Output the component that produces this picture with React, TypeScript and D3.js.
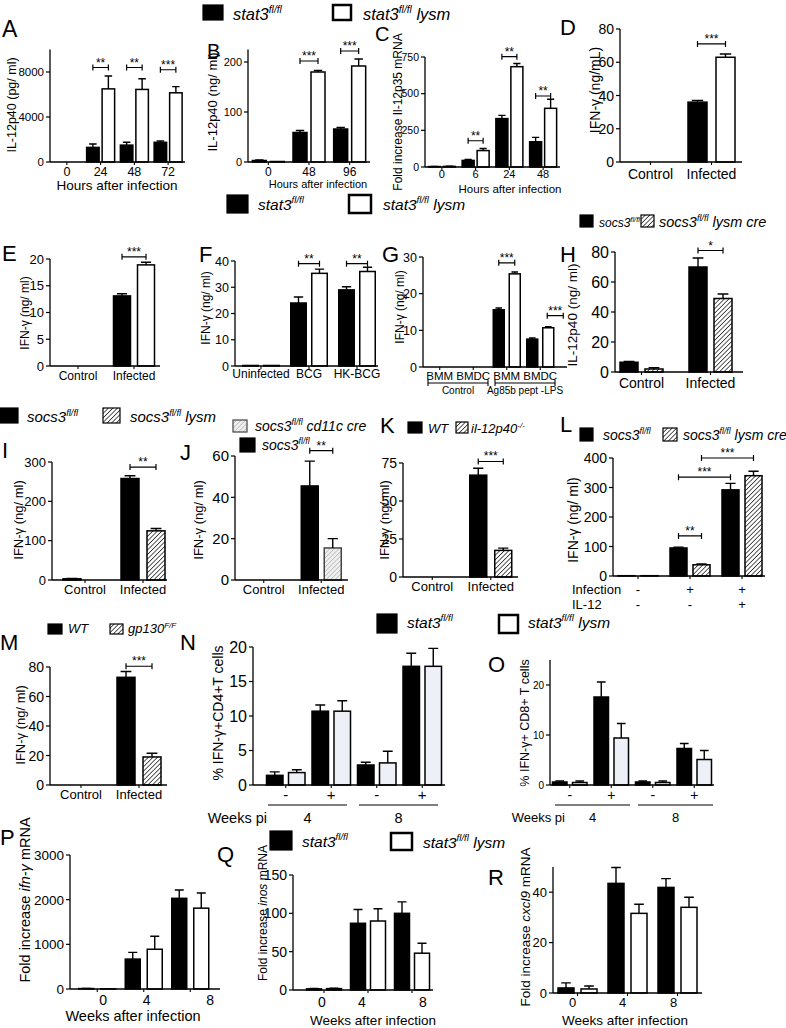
import React from 'react';
import * as d3 from 'd3';

// ================= DATA =================
const aGroups = ['0', '24', '48', '72'];
const aStat3 = [0, 1300, 1500, 1750];
const aStat3Err = [0, 300, 250, 120];
const aLysm = [0, 6500, 6450, 6150];
const aLysmErr = [0, 1150, 950, 550];
const aTicks = [0, 4000, 8000];

const bGroups = ['0', '48', '96'];
const bStat3 = [3, 59, 66];
const bStat3Err = [1, 4, 3];
const bLysm = [1, 180, 192];
const bLysmErr = [0, 3, 14];
const bTicks = [0, 100, 200];

const cGroups = ['0', '6', '24', '48'];
const cStat3 = [3, 45, 330, 172];
const cStat3Err = [1, 7, 22, 30];
const cLysm = [4, 112, 684, 400];
const cLysmErr = [1, 14, 22, 62];
const cTicks = [0, 250, 500, 750];

const dGroups = ['Control', 'Infected'];
const dStat3 = [0, 36];
const dStat3Err = [0, 1];
const dLysm = [0, 63];
const dLysmErr = [0, 2];
const dTicks = [0, 20, 40, 60, 80];

const eGroups = ['Control', 'Infected'];
const eStat3 = [0, 13.1];
const eStat3Err = [0, 0.4];
const eLysm = [0, 18.9];
const eLysmErr = [0, 0.5];
const eTicks = [0, 5, 10, 15, 20];

const fGroups = ['Uninfected', 'BCG', 'HK-BCG'];
const fStat3 = [0.2, 24, 29];
const fStat3Err = [0, 2.3, 1.2];
const fLysm = [0.2, 35.3, 36];
const fLysmErr = [0, 1.6, 1.6];
const fTicks = [0, 10, 20, 30, 40];

const gGroups = ['BMM', 'BMDC', 'BMM', 'BMDC'];
const gConditions = ['Control', 'Ag85b pept -LPS'];
const gStat3 = [0, 0, 15.6, 7.6];
const gStat3Err = [0, 0, 0.5, 0.3];
const gLysm = [0, 0, 25.4, 10.7];
const gLysmErr = [0, 0, 0.5, 0.3];
const gTicks = [0, 10, 20, 30];

const hGroups = ['Control', 'Infected'];
const hSocs = [6.5, 70];
const hSocsErr = [0.5, 6];
const hLysmCre = [2, 49];
const hLysmCreErr = [0.8, 3];
const hTicks = [0, 20, 40, 60, 80];

const iGroups = ['Control', 'Infected'];
const iSocs = [3, 258];
const iSocsErr = [1, 7];
const iLysm = [0, 125];
const iLysmErr = [0, 6];
const iTicks = [0, 100, 200, 300];

const jGroups = ['Control', 'Infected'];
const jSocs = [0, 45.5];
const jSocsErr = [0, 12];
const jCd11c = [0, 15.5];
const jCd11cErr = [0, 4.5];
const jTicks = [0, 20, 40, 60];

const kGroups = ['Control', 'Infected'];
const kWT = [0, 67];
const kWTErr = [0, 4.5];
const kIl12 = [0, 17.5];
const kIl12Err = [0, 1.5];
const kTicks = [0, 25, 50, 75];

const lInfection = ['-', '+', '+'];
const lIL12 = ['-', '-', '+'];
const lSocs = [1, 95, 292];
const lSocsErr = [0, 3, 22];
const lLysmCre = [1, 38, 340];
const lLysmCreErr = [0, 3, 15];
const lTicks = [0, 100, 200, 300, 400];

const mGroups = ['Control', 'Infected'];
const mWT = [0, 73];
const mWTErr = [0, 4];
const mGp130 = [0, 19];
const mGp130Err = [0, 2.5];
const mTicks = [0, 20, 40, 60, 80];

const nSigns = ['-', '+', '-', '+'];
const nWeeks = ['4', '8'];
const nStat3 = [1.4, 10.7, 2.9, 17.2];
const nStat3Err = [0.5, 0.9, 0.4, 1.9];
const nLysm = [1.8, 10.7, 3.2, 17.2];
const nLysmErr = [0.4, 1.5, 1.7, 2.6];
const nTicks = [0, 5, 10, 15, 20];

const oSigns = ['-', '+', '-', '+'];
const oWeeks = ['4', '8'];
const oStat3 = [0.6, 17.6, 0.6, 7.3];
const oStat3Err = [0.2, 3, 0.2, 1];
const oLysm = [0.5, 9.4, 0.5, 5.1];
const oLysmErr = [0.3, 2.9, 0.3, 1.8];
const oTicks = [0, 10, 20];

const pGroups = ['0', '4', '8'];
const pStat3 = [10, 670, 2030];
const pStat3Err = [5, 150, 185];
const pLysm = [3, 890, 1810];
const pLysmErr = [0, 290, 340];
const pTicks = [0, 1000, 2000, 3000];

const qGroups = ['0', '4', '8'];
const qStat3 = [1.5, 87, 100];
const qStat3Err = [0.5, 18, 15];
const qLysm = [1.8, 90, 48];
const qLysmErr = [0.6, 16, 13];
const qTicks = [0, 50, 100, 150];

const rGroups = ['0', '4', '8'];
const rStat3 = [2, 43.5, 41.9];
const rStat3Err = [2, 6.3, 3.5];
const rLysm = [1.6, 31.6, 34];
const rLysmErr = [1.2, 3.6, 4];
const rTicks = [0, 20, 40];

// significance: [group, series] from / to, value level, mark
const aSig = [
  { from: [1, 0], to: [1, 1], at: 8400, mark: '**' },
  { from: [2, 0], to: [2, 1], at: 8400, mark: '**' },
  { from: [3, 0], to: [3, 1], at: 8200, mark: '***' },
];
const bSig = [
  { from: [1, 0], to: [1, 1], at: 202, mark: '***' },
  { from: [2, 0], to: [2, 1], at: 222, mark: '***' },
];
const cSig = [
  { from: [1, 0], to: [1, 1], at: 179, mark: '**' },
  { from: [2, 0], to: [2, 1], at: 752, mark: '**' },
  { from: [3, 0], to: [3, 1], at: 484, mark: '**' },
];
const dSig = [{ from: [1, 0], to: [1, 1], at: 71, mark: '***' }];
const eSig = [{ from: [1, 0], to: [1, 1], at: 20.4, mark: '***' }];
const fSig = [
  { from: [1, 0], to: [1, 1], at: 39, mark: '**' },
  { from: [2, 0], to: [2, 1], at: 39, mark: '**' },
];
const gSig = [
  { from: [2, 0], to: [2, 1], at: 28.4, mark: '***' },
  { from: [3, 0], to: [3, 1], at: 14, mark: '***', shift: 15 },
];
const hSig = [{ from: [1, 0], to: [1, 1], at: 81, mark: '*' }];
const iSig = [{ from: [1, 0], to: [1, 1], at: 287, mark: '**' }];
const jSig = [{ from: [1, 0], to: [1, 1], at: 62.6, mark: '**' }];
const kSig = [{ from: [1, 0], to: [1, 1], at: 76, mark: '***' }];
const lSig = [
  { from: [1, 0], to: [1, 1], at: 136, mark: '**' },
  { from: [1, 0], to: [2, 0], at: 335, mark: '***' },
  { from: [1, 1], to: [2, 1], at: 400, mark: '***' },
];
const mSig = [{ from: [1, 0], to: [1, 1], at: 80.5, mark: '***' }];

// ================= TYPES / HELPERS =================
type Kind = 'black' | 'white' | 'pale' | 'hatch' | 'lighthatch';
type Seg = { t: string; i?: boolean; sup?: boolean };
type Series = { values: number[]; errors: number[]; kind: Kind };
type Sig = { from: number[]; to: number[]; at: number; mark: string; shift?: number };
type PanelSpec = {
  axisX: number; axisEnd: number; bandL: number; bandR: number;
  y0: number; yTop: number; yMax: number; ticks: number[];
  groups: string[]; series: Series[]; barW: number; gap: number;
  tickFont: number; xFont: number; xLabelY: number; sigs: Sig[]; labelDx?: number[];
};

const FONT = '"Liberation Sans", Arial, Helvetica, sans-serif';

const fillOf = (k: Kind) =>
  ({ black: '#000', white: '#fff', pale: '#eef0f7', hatch: 'url(#hatch)', lighthatch: 'url(#lhatch)' } as any)[k];
const strokeOf = (k: Kind) => (k === 'lighthatch' ? '#444' : '#000');

const stat3Name: Seg[] = [{ t: 'stat3', i: true }, { t: 'fl/fl', i: true, sup: true }];
const stat3Lysm: Seg[] = [...stat3Name, { t: ' lysm', i: true }];
const socsName: Seg[] = [{ t: 'socs3', i: true }, { t: 'fl/fl', i: true, sup: true }];
const socsLysmCre: Seg[] = [...socsName, { t: ' lysm cre', i: true }];
const socsLysm: Seg[] = [...socsName, { t: ' lysm', i: true }];
const socsCd11c: Seg[] = [...socsName, { t: ' cd11c cre', i: true }];
const wtName: Seg[] = [{ t: 'WT', i: true }];
const il12Name: Seg[] = [{ t: 'il-12p40', i: true }, { t: '-/-', i: true, sup: true }];
const gpName: Seg[] = [{ t: 'gp130', i: true }, { t: 'F/F', i: true, sup: true }];

function Rich({ segs, size, ...rest }: any) {
  let shifted = false;
  const kids = (segs as Seg[]).map((s, k) => {
    let dy: number | undefined;
    if (s.sup && !shifted) { dy = -size * 0.42; shifted = true; }
    else if (!s.sup && shifted) { dy = size * 0.42; shifted = false; }
    return (
      <tspan key={k} dy={dy} fontStyle={s.i ? 'italic' : undefined} fontSize={s.sup ? size * 0.62 : undefined}>
        {s.t}
      </tspan>
    );
  });
  return <text fontSize={size} {...rest}>{kids}</text>;
}

function scalesFor(p: PanelSpec) {
  const y = d3.scaleLinear().domain([0, p.yMax]).range([p.y0, p.yTop]);
  const x = d3.scaleBand<number>().domain(d3.range(p.groups.length)).range([p.bandL, p.bandR]);
  const n = p.series.length;
  const total = n * p.barW + (n - 1) * p.gap;
  const cx = (g: number) => (x(g) as number) + x.bandwidth() / 2;
  const bx = (g: number, s: number) => cx(g) - total / 2 + s * (p.barW + p.gap);
  const bc = (g: number, s: number) => bx(g, s) + p.barW / 2;
  return { x, y, cx, bx, bc };
}

function Panel({ p }: { p: PanelSpec }) {
  const { y, cx, bx, bc } = scalesFor(p);
  const cap = p.barW * 0.3;
  return (
    <g>
      {p.series.map((se, s) =>
        se.values.map((v, g) => {
          if (v <= 0) return null;
          const top = y(v);
          const e = se.errors[g];
          const c = bc(g, s);
          return (
            <g key={`${s}-${g}`}>
              <rect x={bx(g, s)} y={top} width={p.barW} height={p.y0 - top}
                fill={fillOf(se.kind)} stroke={strokeOf(se.kind)} strokeWidth={1.5} />
              {e > 0 && (
                <path d={`M${c},${top}V${y(v + e)}M${c - cap},${y(v + e)}H${c + cap}`}
                  stroke="#000" strokeWidth={1.4} fill="none" />
              )}
            </g>
          );
        })
      )}
      <line x1={p.axisX} x2={p.axisX} y1={p.y0} y2={p.yTop} stroke="#000" strokeWidth={1.3} />
      {p.ticks.map((t) => (
        <g key={t}>
          <line x1={p.axisX - 4} x2={p.axisX} y1={y(t)} y2={y(t)} stroke="#000" strokeWidth={1.2} />
          <text x={p.axisX - 6} y={y(t)} dy="0.36em" textAnchor="end" fontSize={p.tickFont}>{String(t)}</text>
        </g>
      ))}
      <line x1={p.axisX} x2={p.axisEnd} y1={p.y0} y2={p.y0} stroke="#000" strokeWidth={1.3} />
      {p.groups.map((name, g) => (
        <g key={g}>
          <line x1={cx(g)} x2={cx(g)} y1={p.y0} y2={p.y0 + 3} stroke="#000" strokeWidth={1.1} />
          <text x={cx(g) + (p.labelDx ? p.labelDx[g] : 0)} y={p.xLabelY} textAnchor="middle" fontSize={p.xFont}>{name}</text>
        </g>
      ))}
      {p.sigs.map((sg, k) => {
        const sh = sg.shift || 0;
        const x1 = bc(sg.from[0], sg.from[1]) + sh;
        const x2 = bc(sg.to[0], sg.to[1]) + sh;
        const yy = y(sg.at);
        return (
          <g key={`sig${k}`}>
            <path d={`M${x1},${yy - 3}V${yy + 3}M${x1},${yy}H${x2}M${x2},${yy - 3}V${yy + 3}`}
              stroke="#000" strokeWidth={1.2} fill="none" />
            <text x={(x1 + x2) / 2} y={yy - 1} textAnchor="middle" fontSize={12}>{sg.mark}</text>
          </g>
        );
      })}
    </g>
  );
}

// ================= LAYOUT =================
const pA: PanelSpec = { axisX: 50, axisEnd: 185, bandL: 50, bandR: 185, y0: 162, yTop: 49.5, yMax: 10000, ticks: aTicks, groups: aGroups,
  series: [{ values: aStat3, errors: aStat3Err, kind: 'black' }, { values: aLysm, errors: aLysmErr, kind: 'white' }],
  barW: 12.5, gap: 3, tickFont: 11.5, xFont: 12.5, xLabelY: 176, sigs: aSig };
const pB: PanelSpec = { axisX: 248, axisEnd: 370, bandL: 248, bandR: 370, y0: 162, yTop: 49.5, yMax: 225, ticks: bTicks, groups: bGroups,
  series: [{ values: bStat3, errors: bStat3Err, kind: 'black' }, { values: bLysm, errors: bLysmErr, kind: 'white' }],
  barW: 14, gap: 4, tickFont: 11, xFont: 12, xLabelY: 176, sigs: bSig };
const pC: PanelSpec = { axisX: 425, axisEnd: 560, bandL: 425, bandR: 560, y0: 167, yTop: 57, yMax: 750, ticks: cTicks, groups: cGroups,
  series: [{ values: cStat3, errors: cStat3Err, kind: 'black' }, { values: cLysm, errors: cLysmErr, kind: 'white' }],
  barW: 12, gap: 3, tickFont: 10.5, xFont: 11, xLabelY: 178, sigs: cSig };
const pD: PanelSpec = { axisX: 620, axisEnd: 742, bandL: 620, bandR: 742, y0: 162, yTop: 29, yMax: 80, ticks: dTicks, groups: dGroups,
  series: [{ values: dStat3, errors: dStat3Err, kind: 'black' }, { values: dLysm, errors: dLysmErr, kind: 'white' }],
  barW: 19, gap: 9, tickFont: 14, xFont: 14, xLabelY: 179, sigs: dSig };
const pE: PanelSpec = { axisX: 50, axisEnd: 160, bandL: 50, bandR: 162, y0: 366, yTop: 259, yMax: 20, ticks: eTicks, groups: eGroups,
  series: [{ values: eStat3, errors: eStat3Err, kind: 'black' }, { values: eLysm, errors: eLysmErr, kind: 'white' }],
  barW: 17, gap: 7, tickFont: 13, xFont: 12, xLabelY: 380, sigs: eSig };
const pF: PanelSpec = { axisX: 235, axisEnd: 378, bandL: 237, bandR: 381, y0: 366, yTop: 261, yMax: 40, ticks: fTicks, groups: fGroups,
  series: [{ values: fStat3, errors: fStat3Err, kind: 'black' }, { values: fLysm, errors: fLysmErr, kind: 'white' }],
  barW: 15.5, gap: 5.5, tickFont: 12.5, xFont: 12, xLabelY: 378, sigs: fSig };
const pG: PanelSpec = { axisX: 423, axisEnd: 567, bandL: 423, bandR: 557, y0: 367, yTop: 257, yMax: 30, ticks: gTicks, groups: gGroups,
  series: [{ values: gStat3, errors: gStat3Err, kind: 'black' }, { values: gLysm, errors: gLysmErr, kind: 'white' }],
  barW: 11, gap: 5, tickFont: 12.5, xFont: 11.5, xLabelY: 380, sigs: gSig };
const pH: PanelSpec = { axisX: 615, axisEnd: 743, bandL: 607, bandR: 745, y0: 372, yTop: 252, yMax: 80, ticks: hTicks, groups: hGroups,
  series: [{ values: hSocs, errors: hSocsErr, kind: 'black' }, { values: hLysmCre, errors: hLysmCreErr, kind: 'hatch' }],
  barW: 18, gap: 7, tickFont: 16, xFont: 14, xLabelY: 388, sigs: hSig };
const pI: PanelSpec = { axisX: 52, axisEnd: 167, bandL: 56, bandR: 172, y0: 580, yTop: 462, yMax: 300, ticks: iTicks, groups: iGroups,
  series: [{ values: iSocs, errors: iSocsErr, kind: 'black' }, { values: iLysm, errors: iLysmErr, kind: 'hatch' }],
  barW: 18, gap: 8, tickFont: 13, xFont: 13, xLabelY: 594, sigs: iSig };
const pJ: PanelSpec = { axisX: 235, axisEnd: 348, bandL: 235, bandR: 350, y0: 580, yTop: 456, yMax: 60, ticks: jTicks, groups: jGroups,
  series: [{ values: jSocs, errors: jSocsErr, kind: 'black' }, { values: jCd11c, errors: jCd11cErr, kind: 'lighthatch' }],
  barW: 17, gap: 6, tickFont: 15, xFont: 13, xLabelY: 594, sigs: jSig };
const pK: PanelSpec = { axisX: 403, axisEnd: 518, bandL: 403, bandR: 520, y0: 577, yTop: 463, yMax: 75, ticks: kTicks, groups: kGroups,
  series: [{ values: kWT, errors: kWTErr, kind: 'black' }, { values: kIl12, errors: kIl12Err, kind: 'hatch' }],
  barW: 17, gap: 8, tickFont: 14, xFont: 13, xLabelY: 591, sigs: kSig };
const pL: PanelSpec = { axisX: 613, axisEnd: 765, bandL: 612, bandR: 768, y0: 576, yTop: 458, yMax: 400, ticks: lTicks, groups: lInfection,
  series: [{ values: lSocs, errors: lSocsErr, kind: 'black' }, { values: lLysmCre, errors: lLysmCreErr, kind: 'hatch' }],
  barW: 17, gap: 6, tickFont: 14, xFont: 13, xLabelY: 594, sigs: lSig };
const pM: PanelSpec = { axisX: 50, axisEnd: 167, bandL: 52, bandR: 168, y0: 785, yTop: 667, yMax: 80, ticks: mTicks, groups: mGroups,
  series: [{ values: mWT, errors: mWTErr, kind: 'black' }, { values: mGp130, errors: mGp130Err, kind: 'hatch' }],
  barW: 18, gap: 8, tickFont: 14, xFont: 13, xLabelY: 799, sigs: mSig };
const pN: PanelSpec = { axisX: 253, axisEnd: 445, bandL: 263, bandR: 445, y0: 785, yTop: 647, yMax: 20, ticks: nTicks, groups: nSigns,
  series: [{ values: nStat3, errors: nStat3Err, kind: 'black' }, { values: nLysm, errors: nLysmErr, kind: 'pale' }],
  barW: 16.5, gap: 5.5, tickFont: 16, xFont: 15, xLabelY: 800, sigs: [] };
const pO: PanelSpec = { axisX: 550, axisEnd: 714, bandL: 549, bandR: 715, y0: 785, yTop: 660, yMax: 25, ticks: oTicks, groups: oSigns,
  series: [{ values: oStat3, errors: oStat3Err, kind: 'black' }, { values: oLysm, errors: oLysmErr, kind: 'pale' }],
  barW: 14.5, gap: 5.5, tickFont: 10, xFont: 14, xLabelY: 800, sigs: [] };
const pP: PanelSpec = { axisX: 70, axisEnd: 220, bandL: 74, bandR: 213.5, y0: 989, yTop: 855, yMax: 3000, ticks: pTicks, groups: pGroups,
  series: [{ values: pStat3, errors: pStat3Err, kind: 'black' }, { values: pLysm, errors: pLysmErr, kind: 'white' }],
  barW: 15, gap: 7, tickFont: 13.5, xFont: 14, xLabelY: 1005, sigs: [], labelDx: [6, 3, 20] };
const pQ: PanelSpec = { axisX: 293, axisEnd: 433, bandL: 302, bandR: 434, y0: 990, yTop: 875, yMax: 150, ticks: qTicks, groups: qGroups,
  series: [{ values: qStat3, errors: qStat3Err, kind: 'black' }, { values: qLysm, errors: qLysmErr, kind: 'white' }],
  barW: 15, gap: 5, tickFont: 14, xFont: 14, xLabelY: 1007, sigs: [], labelDx: [-2, -6, 11] };
const pR: PanelSpec = { axisX: 553, axisEnd: 702, bandL: 552.5, bandR: 702.5, y0: 993, yTop: 867, yMax: 50, ticks: rTicks, groups: rGroups,
  series: [{ values: rStat3, errors: rStat3Err, kind: 'black' }, { values: rLysm, errors: rLysmErr, kind: 'white' }],
  barW: 16, gap: 7, tickFont: 13, xFont: 13, xLabelY: 1007, sigs: [], labelDx: [-5, -5, -4] };

const allPanels = [pA, pB, pC, pD, pE, pF, pG, pH, pI, pJ, pK, pL, pM, pN, pO, pP, pQ, pR];

const letters: [string, number, number, number][] = [
  ['A', 2, 37, 23], ['B', 207, 58, 20], ['C', 375, 41, 20], ['D', 560, 35, 22],
  ['E', 2, 261, 22], ['F', 199, 262, 22], ['G', 382, 262, 22], ['H', 560, 262, 22],
  ['I', 2, 458, 22], ['J', 180, 460, 22], ['K', 380, 433, 22], ['L', 560, 432, 22],
  ['M', 0, 650, 22], ['N', 180, 650, 22], ['O', 488, 672, 22],
  ['P', 0, 845, 22], ['Q', 217, 862, 22], ['R', 488, 885, 22],
];

const ifn = 'IFN-γ (ng/ ml)';
const yLabels: [number, number, number, Seg[]][] = [
  [12, 105, 12.5, [{ t: 'IL-12p40 (pg/ ml)' }]],
  [212, 102, 13, [{ t: 'IL-12p40 (ng/ ml)' }]],
  [398, 112, 12, [{ t: 'Fold increase Il-12p35 mRNA' }]],
  [595, 90, 14, [{ t: 'IFN-γ (ng/mL)' }]],
  [25, 313, 12, [{ t: ifn }]],
  [206, 308, 12, [{ t: ifn }]],
  [400, 307, 12, [{ t: ifn }]],
  [572, 315, 13.5, [{ t: 'IL-12p40 (ng/ ml)' }]],
  [18, 520, 13, [{ t: ifn }]],
  [198, 520, 13, [{ t: ifn }]],
  [384, 520, 13, [{ t: ifn }]],
  [573, 520, 14, [{ t: ifn }]],
  [20, 725, 13, [{ t: ifn }]],
  [218, 713, 14, [{ t: '% IFN-γ+CD4+T cells' }]],
  [525, 723, 12.5, [{ t: '% IFN-γ+ CD8+ T cells' }]],
  [25, 900, 14.5, [{ t: 'Fold increase ' }, { t: 'ifn-γ', i: true }, { t: ' mRNA' }]],
  [263, 913, 12, [{ t: 'Fold increase ' }, { t: 'inos', i: true }, { t: ' mRNA' }]],
  [525, 927, 13.5, [{ t: 'Fold increase ' }, { t: 'cxcl9', i: true }, { t: ' mRNA' }]],
];

const xTitles: [string, number, number, number][] = [
  ['Hours after infection', 117, 190, 13.5],
  ['Hours after infection', 318, 188, 11],
  ['Hours after infection', 510, 193, 11.5],
  ['Weeks after infection', 133, 1021, 14.5],
  ['Weeks after infection', 373, 1025, 13.5],
  ['Weeks after infection', 625, 1025, 13.5],
];

type Leg = { kind: Kind; x: number; y: number; w: number; h: number; tx: number; ty: number; size: number; segs: Seg[] };
const legends: Leg[] = [
  { kind: 'black', x: 203, y: 5, w: 20, h: 15, tx: 233, ty: 20, size: 16.5, segs: stat3Name },
  { kind: 'white', x: 333, y: 5, w: 18, h: 15, tx: 363, ty: 20, size: 16.5, segs: stat3Lysm },
  { kind: 'black', x: 227, y: 195, w: 21, h: 18, tx: 258, ty: 210, size: 15.5, segs: stat3Name },
  { kind: 'white', x: 349, y: 195, w: 22, h: 18, tx: 383, ty: 210, size: 15.5, segs: stat3Lysm },
  { kind: 'black', x: 580, y: 215, w: 13, h: 12, tx: 599, ty: 227, size: 12, segs: socsName },
  { kind: 'hatch', x: 641, y: 215, w: 13, h: 12, tx: 659, ty: 227, size: 14.5, segs: socsLysmCre },
  { kind: 'black', x: 0, y: 408, w: 18, h: 15, tx: 27, ty: 422, size: 15, segs: socsName },
  { kind: 'hatch', x: 103, y: 408, w: 17, h: 15, tx: 130, ty: 422, size: 15, segs: socsLysm },
  { kind: 'lighthatch', x: 233, y: 420, w: 14, h: 12, tx: 255, ty: 431, size: 14, segs: socsCd11c },
  { kind: 'black', x: 240, y: 438, w: 15, h: 14, tx: 262, ty: 450, size: 14, segs: socsName },
  { kind: 'black', x: 408, y: 422, w: 14, h: 11, tx: 428, ty: 433, size: 13, segs: wtName },
  { kind: 'hatch', x: 456, y: 422, w: 12, h: 11, tx: 471, ty: 433, size: 13, segs: il12Name },
  { kind: 'black', x: 580, y: 428, w: 13, h: 13, tx: 603, ty: 440, size: 14, segs: socsName },
  { kind: 'hatch', x: 663, y: 428, w: 14, h: 13, tx: 683, ty: 440, size: 14, segs: socsLysmCre },
  { kind: 'black', x: 48, y: 624, w: 14, h: 10, tx: 68, ty: 633, size: 13, segs: wtName },
  { kind: 'hatch', x: 110, y: 624, w: 13, h: 10, tx: 128, ty: 633, size: 13, segs: gpName },
  { kind: 'black', x: 377, y: 614, w: 20, h: 19, tx: 407, ty: 628, size: 15.5, segs: stat3Name },
  { kind: 'white', x: 499, y: 615, w: 19, h: 18, tx: 528, ty: 628, size: 15.5, segs: stat3Lysm },
  { kind: 'black', x: 270, y: 831, w: 22, h: 19, tx: 302, ty: 847, size: 15.5, segs: stat3Name },
  { kind: 'white', x: 391, y: 833, w: 21, h: 17, tx: 423, ty: 848, size: 15.5, segs: stat3Lysm },
];

// ================= EXTRAS =================
function GExtras() {
  const { x } = scalesFor(pG);
  const bw = x.bandwidth();
  return (
    <g>
      {gConditions.map((c, k) => {
        const x1 = (x(k * 2) as number) + 5;
        const x2 = (x(k * 2 + 1) as number) + bw - 2;
        return (
          <g key={c}>
            <path d={`M${x1},${380}V${386}M${x1},383H${x2}M${x2},380V386`} stroke="#000" strokeWidth={1.1} fill="none" />
            <text x={(x1 + x2) / 2} y={394} textAnchor="middle" fontSize={10}>{c}</text>
          </g>
        );
      })}
    </g>
  );
}

function LExtras() {
  const { cx } = scalesFor(pL);
  return (
    <g fontSize={13}>
      <text x={572} y={594}>Infection</text>
      <text x={572} y={609}>IL-12</text>
      {lIL12.map((s, g) => (
        <text key={g} x={cx(g)} y={609} textAnchor="middle">{s}</text>
      ))}
    </g>
  );
}

function WeeksExtras({ p, weeks, labelX, y1, y2, size, i1, i2 }: any) {
  const { x } = scalesFor(p);
  const bw = x.bandwidth();
  return (
    <g>
      <text x={labelX} y={y2} textAnchor="end" fontSize={size}>Weeks pi</text>
      {(weeks as string[]).map((w, k) => {
        const x1 = (x(k * 2) as number) + i1;
        const x2 = (x(k * 2 + 1) as number) + bw - i2;
        return (
          <g key={w}>
            <line x1={x1} x2={x2} y1={y1} y2={y1} stroke="#000" strokeWidth={1.2} />
            <text x={(x1 + x2) / 2} y={y2} textAnchor="middle" fontSize={size}>{w}</text>
          </g>
        );
      })}
    </g>
  );
}

export default function App() {
  return (
    <svg width={786} height={1028} viewBox="0 0 786 1028"
      style={{ position: 'absolute', left: 0, top: 0, background: '#fff' }}
      fontFamily={FONT}>
      <defs>
        <pattern id="hatch" patternUnits="userSpaceOnUse" width={3.2} height={3.2} patternTransform="rotate(45)">
          <rect width={3.2} height={3.2} fill="#fff" />
          <line x1={0} y1={0} x2={0} y2={3.2} stroke="#000" strokeWidth={1.3} />
        </pattern>
        <pattern id="lhatch" patternUnits="userSpaceOnUse" width={3.2} height={3.2} patternTransform="rotate(45)">
          <rect width={3.2} height={3.2} fill="#f0f0f0" />
          <line x1={0} y1={0} x2={0} y2={3.2} stroke="#9a9a9a" strokeWidth={1} />
        </pattern>
      </defs>
      <rect width={786} height={1028} fill="#fff" />
      {allPanels.map((p, k) => <Panel key={k} p={p} />)}
      <GExtras />
      <LExtras />
      <WeeksExtras p={pN} weeks={nWeeks} labelX={267} y1={805} y2={823} size={14.5} i1={5} i2={7} />
      <WeeksExtras p={pO} weeks={oWeeks} labelX={565} y1={805} y2={822} size={13} i1={6} i2={2} />
      {letters.map(([t, x, y, s]) => (
        <text key={t} x={x} y={y} fontSize={s}>{t}</text>
      ))}
      {yLabels.map(([x, y, s, segs], k) => (
        <Rich key={k} segs={segs} size={s} transform={`translate(${x},${y}) rotate(-90)`} textAnchor="middle" dy={s * 0.35} />
      ))}
      {xTitles.map(([t, x, y, s], k) => (
        <text key={k} x={x} y={y} fontSize={s} textAnchor="middle">{t}</text>
      ))}
      {legends.map((l, k) => (
        <g key={k}>
          <rect x={l.x} y={l.y} width={l.w} height={l.h} fill={fillOf(l.kind)} stroke={strokeOf(l.kind)} strokeWidth={l.kind === 'white' ? 2.5 : 1.2} />
          <Rich segs={l.segs} size={l.size} x={l.tx} y={l.ty} />
        </g>
      ))}
    </svg>
  );
}
